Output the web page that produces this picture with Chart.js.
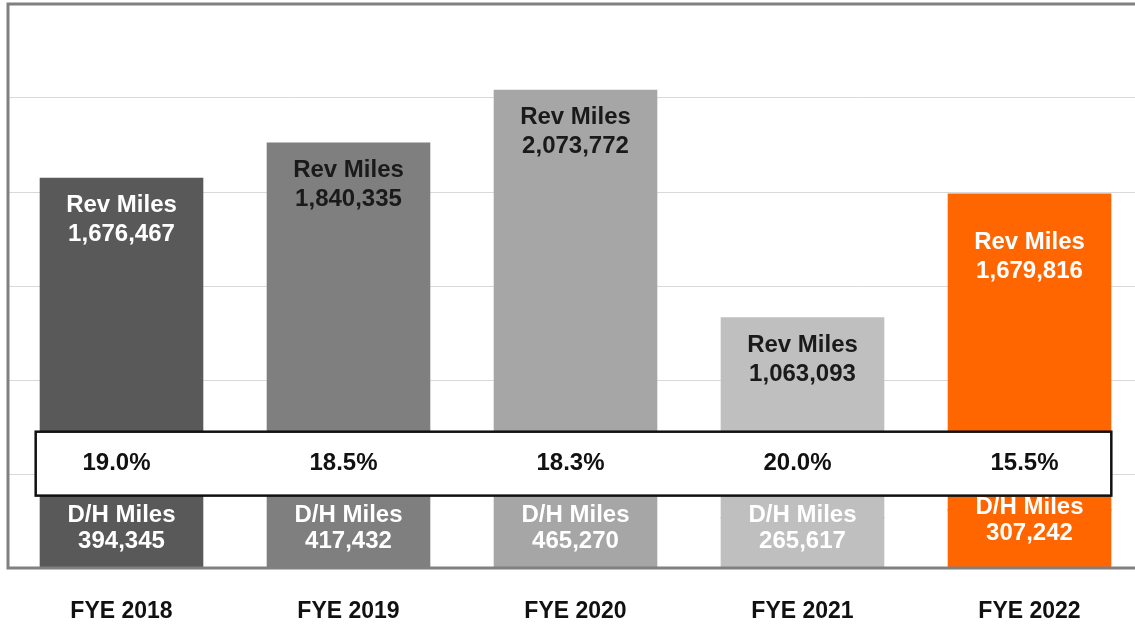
<!DOCTYPE html>
<html>
<head>
<meta charset="utf-8">
<script src="https://cdn.jsdelivr.net/npm/chart.js@4/dist/chart.umd.min.js"></script>
<style>
  html, body { margin: 0; padding: 0; background: #fff; overflow: hidden; }
  #wrap { width: 1150px; height: 626px; position: relative; }
</style>
</head>
<body>
<div id="wrap"><canvas id="milesChart"></canvas></div>
<script>
// --- Data ---
const years = ['FYE 2018', 'FYE 2019', 'FYE 2020', 'FYE 2021', 'FYE 2022'];
const revMiles = [1676467, 1840335, 2073772, 1063093, 1679816];
const dhMiles = [394345, 417432, 465270, 265617, 307242];
const dhShare = ['19.0%', '18.5%', '18.3%', '20.0%', '15.5%'];

// --- Style ---
const barColors = ['#595959', '#7f7f7f', '#a6a6a6', '#bfbfbf', '#ff6600'];
const revTextColors = ['#ffffff', '#1a1a1a', '#1a1a1a', '#1a1a1a', '#ffffff'];
const labelFont = 'bold 24px "Liberation Sans", Arial, sans-serif';

const fmt = (v) => v.toLocaleString('en-US');

// frame around plot area
const framePlugin = {
    id: 'frame',
    afterDraw(chart) {
        const { ctx, chartArea: a } = chart;
        ctx.save();
        ctx.strokeStyle = '#808080';
        ctx.lineWidth = 3;
        ctx.strokeRect(a.left, a.top, a.right - a.left, a.bottom - a.top);
        ctx.restore();
    }
};

// labels inside the bars + percentage box
const labelPlugin = {
    id: 'barLabels',
    afterDatasetsDraw(chart) {
        const ctx = chart.ctx;
        const y = chart.scales.y;
        const dhBars = chart.getDatasetMeta(0).data;
        const revBars = chart.getDatasetMeta(1).data;
        const base = y.getPixelForValue(0);

        ctx.save();
        ctx.font = labelFont;
        ctx.textAlign = 'center';
        ctx.textBaseline = 'middle';

        // Rev Miles labels, near top of segment
        revBars.forEach((bar, i) => {
            const off = i === 4 ? 21 : 0;
            ctx.fillStyle = revTextColors[i];
            ctx.fillText('Rev Miles', bar.x, bar.y + 27 + off);
            ctx.fillText(fmt(revMiles[i]), bar.x, bar.y + 56 + off);
        });

        // D/H Miles labels, near bottom
        dhBars.forEach((bar, i) => {
            const off = i === 4 ? 8 : 0;
            ctx.fillStyle = '#ffffff';
            ctx.fillText('D/H Miles', bar.x, base - 53 - off);
            ctx.fillText(fmt(dhMiles[i]), bar.x, base - 27 - off);
        });

        // percentage box
        const first = dhBars[0], last = dhBars[dhBars.length - 1];
        const left = first.x - first.width / 2 - 5;
        const right = last.x + last.width / 2 + 1;
        const top = y.getPixelForValue(725000);
        const bottom = y.getPixelForValue(385000);
        ctx.fillStyle = '#ffffff';
        ctx.fillRect(left, top, right - left, bottom - top);
        ctx.strokeStyle = '#111111';
        ctx.lineWidth = 2.5;
        ctx.strokeRect(left, top, right - left, bottom - top);

        ctx.fillStyle = '#111111';
        dhBars.forEach((bar, i) => {
            ctx.fillText(dhShare[i], bar.x - 5, (top + bottom) / 2);
        });
        ctx.restore();
    }
};

new Chart(document.getElementById('milesChart'), {
    type: 'bar',
    data: {
        labels: years,
        datasets: [
            { label: 'D/H Miles', data: dhMiles, backgroundColor: barColors },
            { label: 'Rev Miles', data: revMiles, backgroundColor: barColors }
        ]
    },
    options: {
        responsive: true,
        maintainAspectRatio: false,
        animation: false,
        layout: { padding: { top: 4, left: 8, right: 7, bottom: 0 } },
        datasets: {
            bar: { categoryPercentage: 1, barPercentage: 0.712, inflateAmount: 1 }
        },
        plugins: {
            legend: { display: false },
            tooltip: { enabled: false }
        },
        scales: {
            x: {
                stacked: true,
                grid: { display: false, drawTicks: false },
                border: { display: false },
                afterFit: (scale) => { scale.height = 58; },
                ticks: {
                    color: '#111111',
                    padding: 30,
                    font: { family: '"Liberation Sans", Arial, sans-serif', size: 23, weight: 'bold' }
                }
            },
            y: {
                stacked: true,
                min: 0,
                max: 3000000,
                grid: { color: '#d9d9d9', lineWidth: 1, drawTicks: false },
                border: { display: false },
                ticks: { display: false, stepSize: 500000 }
            }
        }
    },
    plugins: [framePlugin, labelPlugin]
});
</script>
</body>
</html>
